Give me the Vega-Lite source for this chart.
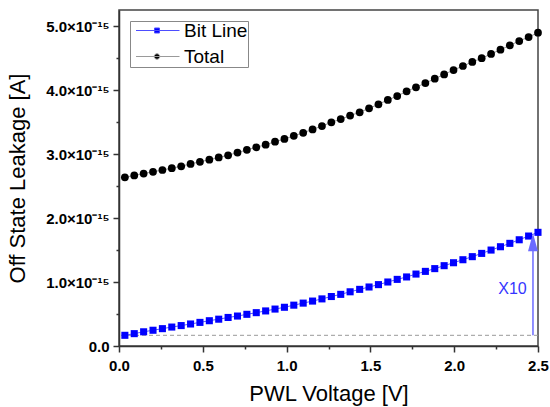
{
  "$schema": "https://vega.github.io/schema/vega-lite/v6.json",
  "width": 419,
  "height": 336,
  "autosize": {"type": "none"},
  "padding": {"left": 119, "top": 10, "right": 12, "bottom": 61},
  "background": "white",
  "config": {
    "font": "Liberation Sans",
    "view": {"stroke": "#444444", "strokeWidth": 1.5},
    "axis": {"domainColor": "#333333", "domainWidth": 1.5, "tickColor": "#333333", "tickWidth": 1.5, "labelColor": "#000000", "titleColor": "#000000", "labelFont": "Liberation Sans", "titleFont": "Liberation Sans", "grid": false},
    "legend": {"title": null, "orient": "top-left", "offset": 11, "labelFontSize": 19, "labelFont": "Liberation Sans", "labelColor": "#000000", "strokeColor": "#888888", "fillColor": "white", "padding": 0, "symbolSize": 100, "symbolStrokeWidth": 1, "symbolOpacity": 1, "labelOffset": 35, "rowPadding": 6}
  },
  "datasets": {
    "curves": [
      {"v":0.035,"y":0.167e-15,"s":"Bit Line"},{"v":0.091,"y":0.193e-15,"s":"Bit Line"},{"v":0.147,"y":0.222e-15,"s":"Bit Line"},{"v":0.203,"y":0.246e-15,"s":"Bit Line"},{"v":0.259,"y":0.271e-15,"s":"Bit Line"},
      {"v":0.315,"y":0.296e-15,"s":"Bit Line"},{"v":0.371,"y":0.319e-15,"s":"Bit Line"},{"v":0.427,"y":0.344e-15,"s":"Bit Line"},{"v":0.483,"y":0.369e-15,"s":"Bit Line"},{"v":0.539,"y":0.395e-15,"s":"Bit Line"},
      {"v":0.595,"y":0.419e-15,"s":"Bit Line"},{"v":0.651,"y":0.446e-15,"s":"Bit Line"},{"v":0.707,"y":0.468e-15,"s":"Bit Line"},{"v":0.763,"y":0.495e-15,"s":"Bit Line"},{"v":0.819,"y":0.521e-15,"s":"Bit Line"},
      {"v":0.875,"y":0.548e-15,"s":"Bit Line"},{"v":0.931,"y":0.577e-15,"s":"Bit Line"},{"v":0.987,"y":0.605e-15,"s":"Bit Line"},{"v":1.043,"y":0.638e-15,"s":"Bit Line"},{"v":1.099,"y":0.670e-15,"s":"Bit Line"},
      {"v":1.155,"y":0.702e-15,"s":"Bit Line"},{"v":1.211,"y":0.736e-15,"s":"Bit Line"},{"v":1.267,"y":0.773e-15,"s":"Bit Line"},{"v":1.323,"y":0.807e-15,"s":"Bit Line"},{"v":1.379,"y":0.847e-15,"s":"Bit Line"},
      {"v":1.436,"y":0.885e-15,"s":"Bit Line"},{"v":1.492,"y":0.922e-15,"s":"Bit Line"},{"v":1.548,"y":0.959e-15,"s":"Bit Line"},{"v":1.604,"y":1.000e-15,"s":"Bit Line"},{"v":1.660,"y":1.041e-15,"s":"Bit Line"},
      {"v":1.716,"y":1.079e-15,"s":"Bit Line"},{"v":1.772,"y":1.124e-15,"s":"Bit Line"},{"v":1.828,"y":1.166e-15,"s":"Bit Line"},{"v":1.884,"y":1.209e-15,"s":"Bit Line"},{"v":1.940,"y":1.255e-15,"s":"Bit Line"},
      {"v":1.996,"y":1.301e-15,"s":"Bit Line"},{"v":2.052,"y":1.348e-15,"s":"Bit Line"},{"v":2.108,"y":1.396e-15,"s":"Bit Line"},{"v":2.164,"y":1.447e-15,"s":"Bit Line"},{"v":2.220,"y":1.499e-15,"s":"Bit Line"},
      {"v":2.276,"y":1.551e-15,"s":"Bit Line"},{"v":2.332,"y":1.604e-15,"s":"Bit Line"},{"v":2.388,"y":1.660e-15,"s":"Bit Line"},{"v":2.444,"y":1.718e-15,"s":"Bit Line"},{"v":2.500,"y":1.776e-15,"s":"Bit Line"},
      {"v":0.035,"y":2.635e-15,"s":"Total"},{"v":0.091,"y":2.665e-15,"s":"Total"},{"v":0.147,"y":2.695e-15,"s":"Total"},{"v":0.203,"y":2.722e-15,"s":"Total"},{"v":0.259,"y":2.750e-15,"s":"Total"},
      {"v":0.315,"y":2.778e-15,"s":"Total"},{"v":0.371,"y":2.808e-15,"s":"Total"},{"v":0.427,"y":2.845e-15,"s":"Total"},{"v":0.483,"y":2.878e-15,"s":"Total"},{"v":0.539,"y":2.911e-15,"s":"Total"},
      {"v":0.595,"y":2.946e-15,"s":"Total"},{"v":0.651,"y":2.980e-15,"s":"Total"},{"v":0.707,"y":3.022e-15,"s":"Total"},{"v":0.763,"y":3.065e-15,"s":"Total"},{"v":0.819,"y":3.104e-15,"s":"Total"},
      {"v":0.875,"y":3.146e-15,"s":"Total"},{"v":0.931,"y":3.192e-15,"s":"Total"},{"v":0.987,"y":3.235e-15,"s":"Total"},{"v":1.043,"y":3.284e-15,"s":"Total"},{"v":1.099,"y":3.332e-15,"s":"Total"},
      {"v":1.155,"y":3.384e-15,"s":"Total"},{"v":1.211,"y":3.437e-15,"s":"Total"},{"v":1.267,"y":3.495e-15,"s":"Total"},{"v":1.323,"y":3.545e-15,"s":"Total"},{"v":1.379,"y":3.600e-15,"s":"Total"},
      {"v":1.436,"y":3.652e-15,"s":"Total"},{"v":1.492,"y":3.713e-15,"s":"Total"},{"v":1.548,"y":3.777e-15,"s":"Total"},{"v":1.604,"y":3.845e-15,"s":"Total"},{"v":1.660,"y":3.905e-15,"s":"Total"},
      {"v":1.716,"y":3.980e-15,"s":"Total"},{"v":1.772,"y":4.042e-15,"s":"Total"},{"v":1.828,"y":4.108e-15,"s":"Total"},{"v":1.884,"y":4.176e-15,"s":"Total"},{"v":1.940,"y":4.244e-15,"s":"Total"},
      {"v":1.996,"y":4.312e-15,"s":"Total"},{"v":2.052,"y":4.375e-15,"s":"Total"},{"v":2.108,"y":4.438e-15,"s":"Total"},{"v":2.164,"y":4.497e-15,"s":"Total"},{"v":2.220,"y":4.563e-15,"s":"Total"},
      {"v":2.276,"y":4.630e-15,"s":"Total"},{"v":2.332,"y":4.698e-15,"s":"Total"},{"v":2.388,"y":4.765e-15,"s":"Total"},{"v":2.444,"y":4.828e-15,"s":"Total"},{"v":2.500,"y":4.895e-15,"s":"Total"}
    ]
  },
  "layer": [
    {
      "data": {"values": [{"y": 0.167e-15}]},
      "mark": {"type": "rule", "color": "#999999", "strokeWidth": 1, "strokeDash": [4, 3]},
      "encoding": {
        "y": {"field": "y", "type": "quantitative", "scale": {"domain": [0, 5.25e-15], "nice": false, "zero": false},
          "axis": {"orient": "left", "values": [0.5e-15, 1.5e-15, 2.5e-15, 3.5e-15, 4.5e-15], "labels": false, "domain": false, "ticks": true, "tickSize": 3, "title": null}}
      }
    },
    {
      "data": {"name": "curves"},
      "transform": [{"filter": "datum.s == 'Bit Line'"}],
      "mark": {"type": "line", "strokeWidth": 1, "color": "#5a5aff"},
      "encoding": {
        "x": {"field": "v", "type": "quantitative", "scale": {"domain": [0, 2.5], "nice": false, "zero": false},
          "axis": {"orient": "bottom", "values": [0, 0.5, 1, 1.5, 2, 2.5], "format": ".1f", "tickSize": 6, "labelFontSize": 15, "labelFontWeight": "bold", "labelPadding": 6, "labelFlush": false, "title": "PWL Voltage [V]", "titleFontSize": 22, "titleFontWeight": "normal", "titlePadding": 10}},
        "y": {"field": "y", "type": "quantitative",
          "axis": {"orient": "left", "values": [0, 1e-15, 2e-15, 3e-15, 4e-15, 5e-15], "labelExpr": "datum.value == 0 ? '0.0' : format(datum.value * 1e15, '.1f') + '×10⁻¹⁵'", "tickSize": 6, "labelFontSize": 15, "labelFontWeight": "bold", "labelPadding": 4, "labelFlush": false, "title": "Off State Leakage [A]", "titleFontSize": 22, "titleFontWeight": "normal", "titlePadding": 16}}
      }
    },
    {
      "data": {"name": "curves"},
      "transform": [{"filter": "datum.s == 'Total'"}],
      "mark": {"type": "line", "strokeWidth": 1, "color": "#9a9a9a"},
      "encoding": {
        "x": {"field": "v", "type": "quantitative", "axis": null},
        "y": {"field": "y", "type": "quantitative", "axis": null}
      }
    },
    {
      "data": {"name": "curves"},
      "transform": [{"filter": "datum.s == 'Bit Line'"}],
      "mark": {"type": "point", "filled": true, "opacity": 1, "strokeWidth": 0, "shape": "square", "size": 50, "color": "#0000ff"},
      "encoding": {
        "x": {"field": "v", "type": "quantitative", "axis": null},
        "y": {"field": "y", "type": "quantitative", "axis": null}
      }
    },
    {
      "data": {"name": "curves"},
      "transform": [{"filter": "datum.s == 'Total'"}],
      "mark": {"type": "point", "filled": true, "opacity": 1, "strokeWidth": 0, "shape": "circle", "size": 60, "color": "#000000"},
      "encoding": {
        "x": {"field": "v", "type": "quantitative", "axis": null},
        "y": {"field": "y", "type": "quantitative", "axis": null}
      }
    },
    {
      "data": {"name": "curves"},
      "mark": {"type": "point", "opacity": 0, "size": 100, "strokeWidth": 1},
      "encoding": {
        "x": {"field": "v", "type": "quantitative", "axis": null},
        "y": {"field": "y", "type": "quantitative", "axis": null},
        "fill": {"field": "s", "type": "nominal", "scale": {"domain": ["Bit Line", "Total"], "range": ["#0000ff", "#000000"]}},
        "stroke": {"field": "s", "type": "nominal", "scale": {"domain": ["Bit Line", "Total"], "range": ["#4d4dff", "#9a9a9a"]}},
        "shape": {"field": "s", "type": "nominal", "scale": {"domain": ["Bit Line", "Total"], "range": ["M-0.7,0H8M3,-0.5H4V0.5H3Z", "M-0.7,0H8M4.05,0A0.55,0.55 0 1,1 2.95,0A0.55,0.55 0 1,1 4.05,0Z"]}}
      }
    },
    {
      "data": {"values": [{"x": 2.47, "y": 0.167e-15, "y2": 1.55e-15}]},
      "mark": {"type": "rule", "color": "#6b6bff", "strokeWidth": 1.5},
      "encoding": {
        "x": {"field": "x", "type": "quantitative",
          "axis": {"orient": "bottom", "values": [0.25, 0.75, 1.25, 1.75, 2.25], "labels": false, "domain": false, "tickSize": 3, "title": null}},
        "y": {"field": "y", "type": "quantitative", "axis": null},
        "y2": {"field": "y2"}
      }
    },
    {
      "data": {"values": [{"x": 2.47, "y": 1.62e-15}]},
      "mark": {"type": "point", "filled": true, "opacity": 1, "color": "#6b6bff", "strokeWidth": 0, "size": 324, "shape": "M0,-1L0.55,1L-0.55,1Z"},
      "encoding": {
        "x": {"field": "x", "type": "quantitative", "axis": null},
        "y": {"field": "y", "type": "quantitative", "axis": null}
      }
    },
    {
      "data": {"values": [{"x": 2.348, "y": 0.898e-15, "t": "X10"}]},
      "mark": {"type": "text", "fontSize": 16, "font": "Liberation Sans", "color": "#3535ff", "align": "center", "baseline": "middle"},
      "encoding": {
        "x": {"field": "x", "type": "quantitative", "axis": null},
        "y": {"field": "y", "type": "quantitative", "axis": null},
        "text": {"field": "t"}
      }
    }
  ],
  "resolve": {"axis": {"x": "independent", "y": "independent"}}
}
